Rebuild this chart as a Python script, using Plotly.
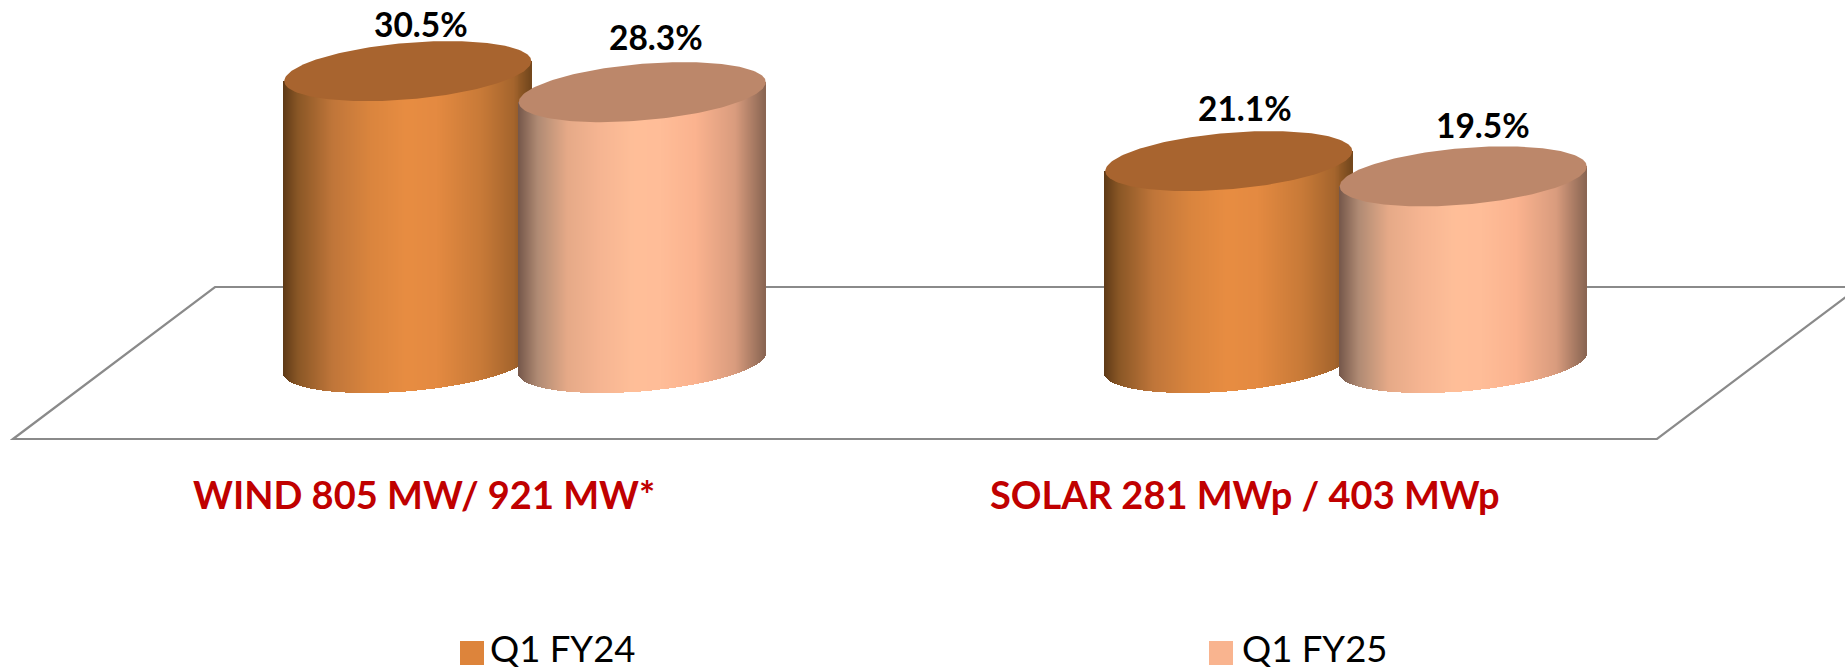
import numpy as np
import plotly.graph_objects as go

# ---------- data ----------
categories = ["WIND 805 MW/ 921 MW*", "SOLAR 281 MWp / 403 MWp"]
series_names = ["Q1 FY24", "Q1 FY25"]
q1_fy24 = [30.5, 21.1]
q1_fy25 = [28.3, 19.5]

# ---------- style / layout ----------
W, H = 1845, 669
PX_PER_UNIT_Y = 9.57
PX_PER_UNIT_X = 821.0
ZERO_PX_Y = 363.0
FIRST_CAT_PX_X = 525.0
BAR_OFFSET = 0.1428
HALF_W = 0.1504
SHEAR_PX, MINOR_PX = 10.0, 28.3
FONT = "Lato"

top_colors = ["#A8642F", "#BC876A"]
legend_colors = ["#DD843B", "#F9B48F"]
gradients = [
    [(0, "#5E3917"), (.06, "#8A5726"), (.2, "#C0763A"), (.35, "#DA853E"), (.5, "#E88D42"),
     (.62, "#E48A41"), (.8, "#C87A38"), (.93, "#A5652D"), (1, "#74481D")],
    [(0, "#75574A"), (.08, "#B08B74"), (.2, "#E6AA88"), (.33, "#F6B592"), (.47, "#FFBF99"),
     (.58, "#FFBD98"), (.72, "#FBB38F"), (.88, "#D99C7E"), (1, "#8A6653")],
]
label_dx = [[13, 16], [14, 20]]
label_dy = [[47, 53], [55, 51]]
legend_text_gap = 28


def hex2rgb(h):
    return np.array([int(h[i:i + 2], 16) for i in (1, 3, 5)], float)


def grad(stops, f):
    ps = [s[0] for s in stops]
    cs = np.array([hex2rgb(s[1]) for s in stops])
    return "rgb(%d,%d,%d)" % tuple(np.interp(f, ps, cs[:, k]) for k in range(3))


x_range = [(0 - FIRST_CAT_PX_X) / PX_PER_UNIT_X, (W - FIRST_CAT_PX_X) / PX_PER_UNIT_X]
y_range = [(ZERO_PX_Y - H) / PX_PER_UNIT_Y, ZERO_PX_Y / PX_PER_UNIT_Y]
shear, minor = SHEAR_PX / PX_PER_UNIT_Y, MINOR_PX / PX_PER_UNIT_Y

fig = go.Figure()
annotations = []

n_strips = 248
u = (np.arange(n_strips) + 0.5) / n_strips * 2 - 1
t = np.linspace(0, 2 * np.pi, 181)

for s, (name, vals) in enumerate(zip(series_names, [q1_fy24, q1_fy25])):
    off = -BAR_OFFSET if s == 0 else BAR_OFFSET
    for c, v in enumerate(vals):
        cx = c + off
        # cylinder body: one thin bar per shading strip
        base = shear * u - minor * np.sqrt(1 - u ** 2)
        fig.add_trace(go.Bar(
            x=cx + HALF_W * u, y=v + shear * u - base, base=base,
            width=1.6 * (2 * HALF_W / n_strips),
            marker=dict(color=[grad(gradients[s], (a + 1) / 2) for a in u], line_width=0),
            showlegend=False, hoverinfo="skip"))
        # cylinder top
        fig.add_trace(go.Scatter(
            x=cx + HALF_W * np.cos(t), y=v + shear * np.cos(t) + minor * np.sin(t),
            mode="lines", fill="toself", fillcolor=top_colors[s], line=dict(width=0),
            showlegend=False, hoverinfo="skip"))
        annotations.append(dict(
            x=cx, y=v, xref="x", yref="y", text=f"<b>{v:.1f}%</b>", showarrow=False,
            xshift=label_dx[s][c], yshift=label_dy[s][c], yanchor="middle",
            font=dict(family=FONT, size=33.5, color="#000000")))

for c, cat in enumerate(categories):
    annotations.append(dict(
        x=c, y=1 - 494 / H, xref="x", yref="paper", text=f"<b>{cat}</b>", showarrow=False,
        xshift=-101, yanchor="middle", font=dict(family=FONT, size=38, color="#C00000")))

# legend
legend_px = [460, 1209]
shapes = []
for s, name in enumerate(series_names):
    shapes.append(dict(type="rect", xref="paper", yref="paper", layer="above",
                       x0=legend_px[s] / W, x1=(legend_px[s] + 24) / W,
                       y0=1 - 665 / H, y1=1 - 641 / H,
                       fillcolor=legend_colors[s], line_width=0))
    annotations.append(dict(
        x=(legend_px[s] + legend_text_gap + (0 if s == 0 else 3)) / W, y=0.0,
        xref="paper", yref="paper", text=name,
        showarrow=False, xanchor="left", yanchor="bottom", height=38,
        font=dict(family=FONT, size=36.5, color="#000000")))

# floor of the 3-D plot
floor_px = [(13, 439), (215, 287), (1859, 287), (1657, 439)]
path = "M" + " L".join(f"{x / W:.5f},{1 - y / H:.5f}" for x, y in floor_px) + " Z"
shapes.append(dict(type="path", path=path, xref="paper", yref="paper", layer="below",
                   line=dict(color="#8A8A8A", width=2.2)))

fig.update_layout(
    width=W, height=H, margin=dict(l=0, r=0, t=0, b=0),
    paper_bgcolor="white", plot_bgcolor="rgba(0,0,0,0)",
    barmode="overlay", bargap=0, showlegend=False,
    xaxis=dict(range=x_range, visible=False, fixedrange=True),
    yaxis=dict(range=y_range, visible=False, fixedrange=True),
    annotations=annotations, shapes=shapes,
)
fig.write_html("out.html", post_script="document.body.style.margin='0';document.body.style.overflow='hidden';",
               config={"displayModeBar": False})
